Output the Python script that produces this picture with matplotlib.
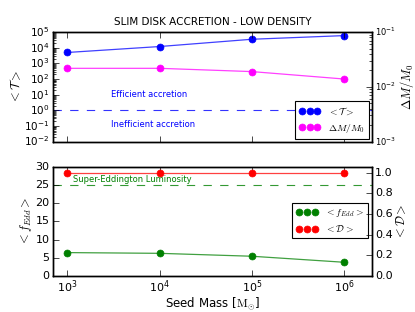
import matplotlib
matplotlib.use("Agg")
import matplotlib.pyplot as plt
from matplotlib.ticker import NullLocator

# seed masses (Msun)
seedMass = [1e3, 1e4, 1e5, 1e6]

# top panel
avgT = [5.0e3, 1.2e4, 3.5e4, 6.0e4]
massGain = [0.0218, 0.0218, 0.019, 0.0139]

# bottom panel
fEdd = [6.45, 6.25, 5.45, 3.8]
duty = [1.0, 1.0, 1.0, 1.0]

plt.style.use("classic")
plt.rcParams["figure.facecolor"] = "white"
plt.rcParams["savefig.facecolor"] = "white"
plt.rcParams["mathtext.fontset"] = "cm"
plt.rcParams["font.size"] = 8
plt.rcParams["xtick.major.pad"] = 2
plt.rcParams["ytick.major.pad"] = 2.5
plt.rcParams["axes.labelpad"] = 1

fig = plt.figure(figsize=(4.15, 3.12), dpi=100)
ax1 = fig.add_subplot(2, 1, 1)
ax3 = fig.add_subplot(2, 1, 2, sharex=ax1)
plt.subplots_adjust(left=0.128, right=0.896, top=0.897, bottom=0.115, hspace=0.23)

def series(ax, x, y, c, lab):
    # faint line underneath, solid markers on top
    ax.plot(x, y, "-", color=c, lw=0.9, alpha=0.75)
    h, = ax.plot(x, y, "o", color=c, mec=c, ms=5, label=lab)
    return h

# ---- top panel ----
ax2 = ax1.twinx()
l1 = series(ax1, seedMass, avgT, "b", r"$<\mathcal{T}>$")
l2 = series(ax2, seedMass, massGain, "magenta", r"$\Delta M/M_0$")
ax1.axhline(1.0, color="b", ls="--", lw=0.8, alpha=0.8)
ax1.text(3000, 10, "Efficient accretion", color="b", fontsize=6, va="center")
ax1.text(3000, 0.13, "Inefficient accretion", color="b", fontsize=6, va="center")
ax1.set_xscale("log")
ax1.set_yscale("log")
ax2.set_yscale("log")
ax1.set_ylim(1e-2, 1e5)
ax2.set_ylim(1e-3, 1e-1)
ax1.set_xlim(700, 2e6)
ax1.xaxis.set_minor_locator(NullLocator())
ax1.set_ylabel(r"$<\mathcal{T}>$", fontsize=9)
ax2.set_ylabel(r"$\Delta M/M_0$", fontsize=9)
ax1.set_title("SLIM DISK ACCRETION - LOW DENSITY", fontsize=7.5)
plt.setp(ax1.get_xticklabels(), visible=False)
ax1.tick_params(labelsize=7.5)
ax2.tick_params(labelsize=6)
leg = ax1.legend([l1, l2], [l1.get_label(), l2.get_label()], loc="lower right",
                 numpoints=3, fontsize=7, borderaxespad=0.3, handlelength=2.2)
leg.get_frame().set_linewidth(0.8)

# ---- bottom panel ----
ax4 = ax3.twinx()
l3 = series(ax3, seedMass, fEdd, "g", r"$<f_{Edd}>$")
l4 = series(ax4, seedMass, duty, "r", r"$<\mathcal{D}>$")
ax3.axhline(25, color="g", ls="--", lw=0.8, alpha=0.8)
ax3.text(1150, 26.6, "Super-Eddington Luminosity", color="g", fontsize=6, va="center")
ax3.set_ylim(0, 30)
ax4.set_ylim(0, 1.056)
ax4.set_yticks([0.0, 0.2, 0.4, 0.6, 0.8, 1.0])
ax3.set_yticks([0, 5, 10, 15, 20, 25, 30])
ax3.set_xlabel(r"Seed Mass [$\mathrm{M}_{\odot}$]", fontsize=8.5, labelpad=0)
ax3.set_ylabel(r"$<f_{Edd}>$", fontsize=9)
ax4.set_ylabel(r"$<\mathcal{D}>$", fontsize=9)
ax3.tick_params(labelsize=8)
ax4.tick_params(labelsize=8)
leg2 = ax3.legend([l3, l4], [l3.get_label(), l4.get_label()], loc="lower left",
                  bbox_to_anchor=(0.75, 0.345, 0.237, 0.295), mode="expand",
                  numpoints=3, fontsize=7, borderaxespad=0.0, handlelength=2.2)
leg2.get_frame().set_linewidth(0.8)

plt.savefig("out.png", dpi=100)
